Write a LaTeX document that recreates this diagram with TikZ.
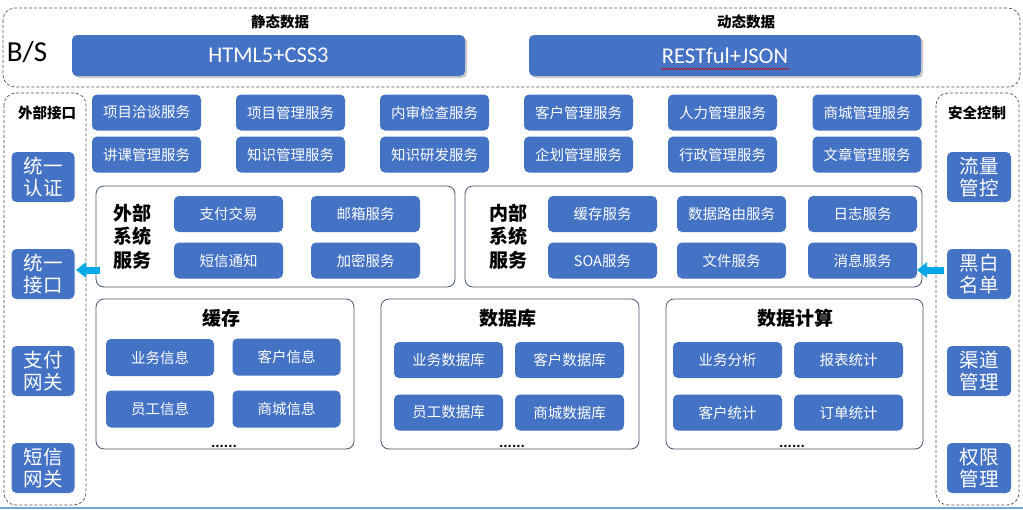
\documentclass[tikz,border=0pt]{standalone}
\usepackage{fontspec}
\setmainfont{Carlito}
\newfontfamily\cjk{Noto Sans CJK SC}
\usetikzlibrary{arrows.meta,shadows,decorations.pathmorphing,calc}
\definecolor{myblue}{HTML}{4472C4}
\definecolor{frame}{HTML}{44546A}
\definecolor{dashc}{HTML}{505050}
\definecolor{arrowc}{RGB}{0,168,232}
\definecolor{bottomline}{HTML}{6FA8DC}
\begin{document}
\begin{tikzpicture}[x=1pt,y=-1pt,
  bbox/.style={fill=myblue,rounded corners=5pt,draw=none,text=white,inner sep=0pt,align=center},
  svc/.style={bbox,minimum width=109pt,minimum height=36pt,font=\cjk\fontsize{14.5}{17}\selectfont},
  side/.style={bbox,minimum width=63pt,minimum height=50pt,font=\cjk\fontsize{19.5}{22}\selectfont},
  topbar/.style={bbox,minimum width=393pt,minimum height=41pt,font=\fontsize{22.5}{26}\selectfont,
     drop shadow={shadow xshift=2pt,shadow yshift=-2pt,opacity=0.35,fill=black!60}},
  dashbox/.style={draw=dashc,line width=0.7pt,dash pattern=on 3pt off 2pt,rounded corners=12pt},
  container/.style={draw=frame,line width=0.8pt,rounded corners=8pt},
  lbl/.style={font=\cjk\bfseries\fontsize{14.5}{17}\selectfont,inner sep=0pt},
  biglbl/.style={font=\cjk\bfseries\fontsize{19}{23.5}\selectfont,inner sep=0pt,align=center},
  dots/.style={font=\fontsize{16}{16}\selectfont\bfseries,inner sep=0pt,anchor=base},
  blockarrow/.style={draw=arrowc,line width=7pt,-{Triangle[length=10pt,width=15pt]}}
]
\useasboundingbox (0,0) rectangle (1023,509);

% ---------- top B/S area ----------
\draw[dashbox] (3,8) rectangle (1020,87);
\node[font=\fontsize{29}{32}\selectfont,inner sep=0pt] (bs) at (27,52) {B/S};
\node[lbl] (static) at (280,22) {静态数据};
\node[lbl] (dynamic) at (746,22) {动态数据};
\node[topbar] (html) at (268.5,55.5) {HTML5+CSS3};
\node[topbar,minimum width=392pt] (rest) at (725,55.5) {RESTful+JSON};
\draw[red!80!black,line width=0.5pt,decorate,decoration={snake,segment length=3pt,amplitude=0.8pt}]
  ($(rest.center)+(-64,13.5)$) -- ($(rest.center)+(65,13.5)$);

% ---------- left column ----------
\draw[dashbox] (4,93) rectangle (86,505);
\node[lbl] (extif) at (47,113) {外部接口};
\node[side] (auth) at (43,177) {统一\\认证};
\node[side] (uif) at (43,274) {统一\\接口};
\node[side] (pay) at (43,371) {支付\\网关};
\node[side] (sms) at (43,468) {短信\\网关};

% ---------- right column ----------
\draw[dashbox] (936,93) rectangle (1019,505);
\node[lbl] (sec) at (977,113) {安全控制};
\node[side,minimum width=64pt] (flow) at (979,177) {流量\\管控};
\node[side,minimum width=64pt] (bw) at (979,274) {黑白\\名单};
\node[side,minimum width=64pt] (chan) at (979,371) {渠道\\管理};
\node[side,minimum width=64pt] (perm) at (979,468) {权限\\管理};

% ---------- business services ----------
\node[svc] (s11) at (146.5,112.5) {项目洽谈服务};
\node[svc] (s12) at (290.5,112.5) {项目管理服务};
\node[svc] (s13) at (434.5,112.5) {内审检查服务};
\node[svc] (s14) at (578.5,112.5) {客户管理服务};
\node[svc] (s15) at (722.5,112.5) {人力管理服务};
\node[svc] (s16) at (867,112.5) {商城管理服务};
\node[svc] (s21) at (146.5,154.5) {讲课管理服务};
\node[svc] (s22) at (290.5,154.5) {知识管理服务};
\node[svc] (s23) at (434.5,154.5) {知识研发服务};
\node[svc] (s24) at (578.5,154.5) {企划管理服务};
\node[svc] (s25) at (722.5,154.5) {行政管理服务};
\node[svc] (s26) at (867,154.5) {文章管理服务};

% ---------- external system services ----------
\draw[container] (96,186) rectangle (455,287);
\node[biglbl] (extlbl) at (132,236.5) {外部\\系统\\服务};
\node[svc] (e1) at (228.5,214) {支付交易};
\node[svc] (e2) at (365.5,214) {邮箱服务};
\node[svc] (e3) at (228.5,260.5) {短信通知};
\node[svc] (e4) at (365.5,260.5) {加密服务};

% ---------- internal system services ----------
\draw[container] (465,186) rectangle (922,287);
\node[biglbl] (intlbl) at (508,236.5) {内部\\系统\\服务};
\node[svc] (i1) at (602.5,214) {缓存服务};
\node[svc] (i2) at (731.5,214) {数据路由服务};
\node[svc] (i3) at (862.5,214) {日志服务};
\node[svc] (i4) at (602.5,260.5) {SOA服务};
\node[svc] (i5) at (731.5,260.5) {文件服务};
\node[svc] (i6) at (862.5,260.5) {消息服务};

% ---------- cache ----------
\draw[container] (96,299) rectangle (354,449);
\node[biglbl] (cachet) at (221,318) {缓存};
\node[svc,minimum width=108pt,minimum height=37pt] (c1) at (160,357.5) {业务信息};
\node[svc,minimum width=108pt,minimum height=37pt] (c2) at (286.5,357) {客户信息};
\node[svc,minimum width=108pt,minimum height=37pt] (c3) at (160,409) {员工信息};
\node[svc,minimum width=108pt,minimum height=37pt] (c4) at (286.5,409) {商城信息};
\node[dots] (cd) at (224,447) {......};

% ---------- database ----------
\draw[container] (381,299) rectangle (639,449);
\node[biglbl] (dbt) at (508,318) {数据库};
\node[svc] (d1) at (448.5,360) {业务数据库};
\node[svc] (d2) at (569.5,360) {客户数据库};
\node[svc] (d3) at (448.5,412.5) {员工数据库};
\node[svc] (d4) at (569.5,412.5) {商城数据库};
\node[dots] (dd) at (512,447) {......};

% ---------- computation ----------
\draw[container] (666,299) rectangle (923,449);
\node[biglbl] (cpt) at (795,318) {数据计算};
\node[svc] (p1) at (727.5,360) {业务分析};
\node[svc] (p2) at (848.5,360) {报表统计};
\node[svc] (p3) at (727.5,412.5) {客户统计};
\node[svc] (p4) at (848.5,412.5) {订单统计};
\node[dots] (pd) at (792,447) {......};

% ---------- arrows ----------
\coordinate (la) at (100,270);
\coordinate (lt) at (76,270);
\coordinate (ra) at (944,270);
\coordinate (rt) at (917,270);
\draw[blockarrow] (la) -- (lt);
\draw[blockarrow] (ra) -- (rt);

% bottom edge line
\draw[bottomline,line width=1.5pt] (0,508.2) -- (1023,508.2);
\end{tikzpicture}
\end{document}
